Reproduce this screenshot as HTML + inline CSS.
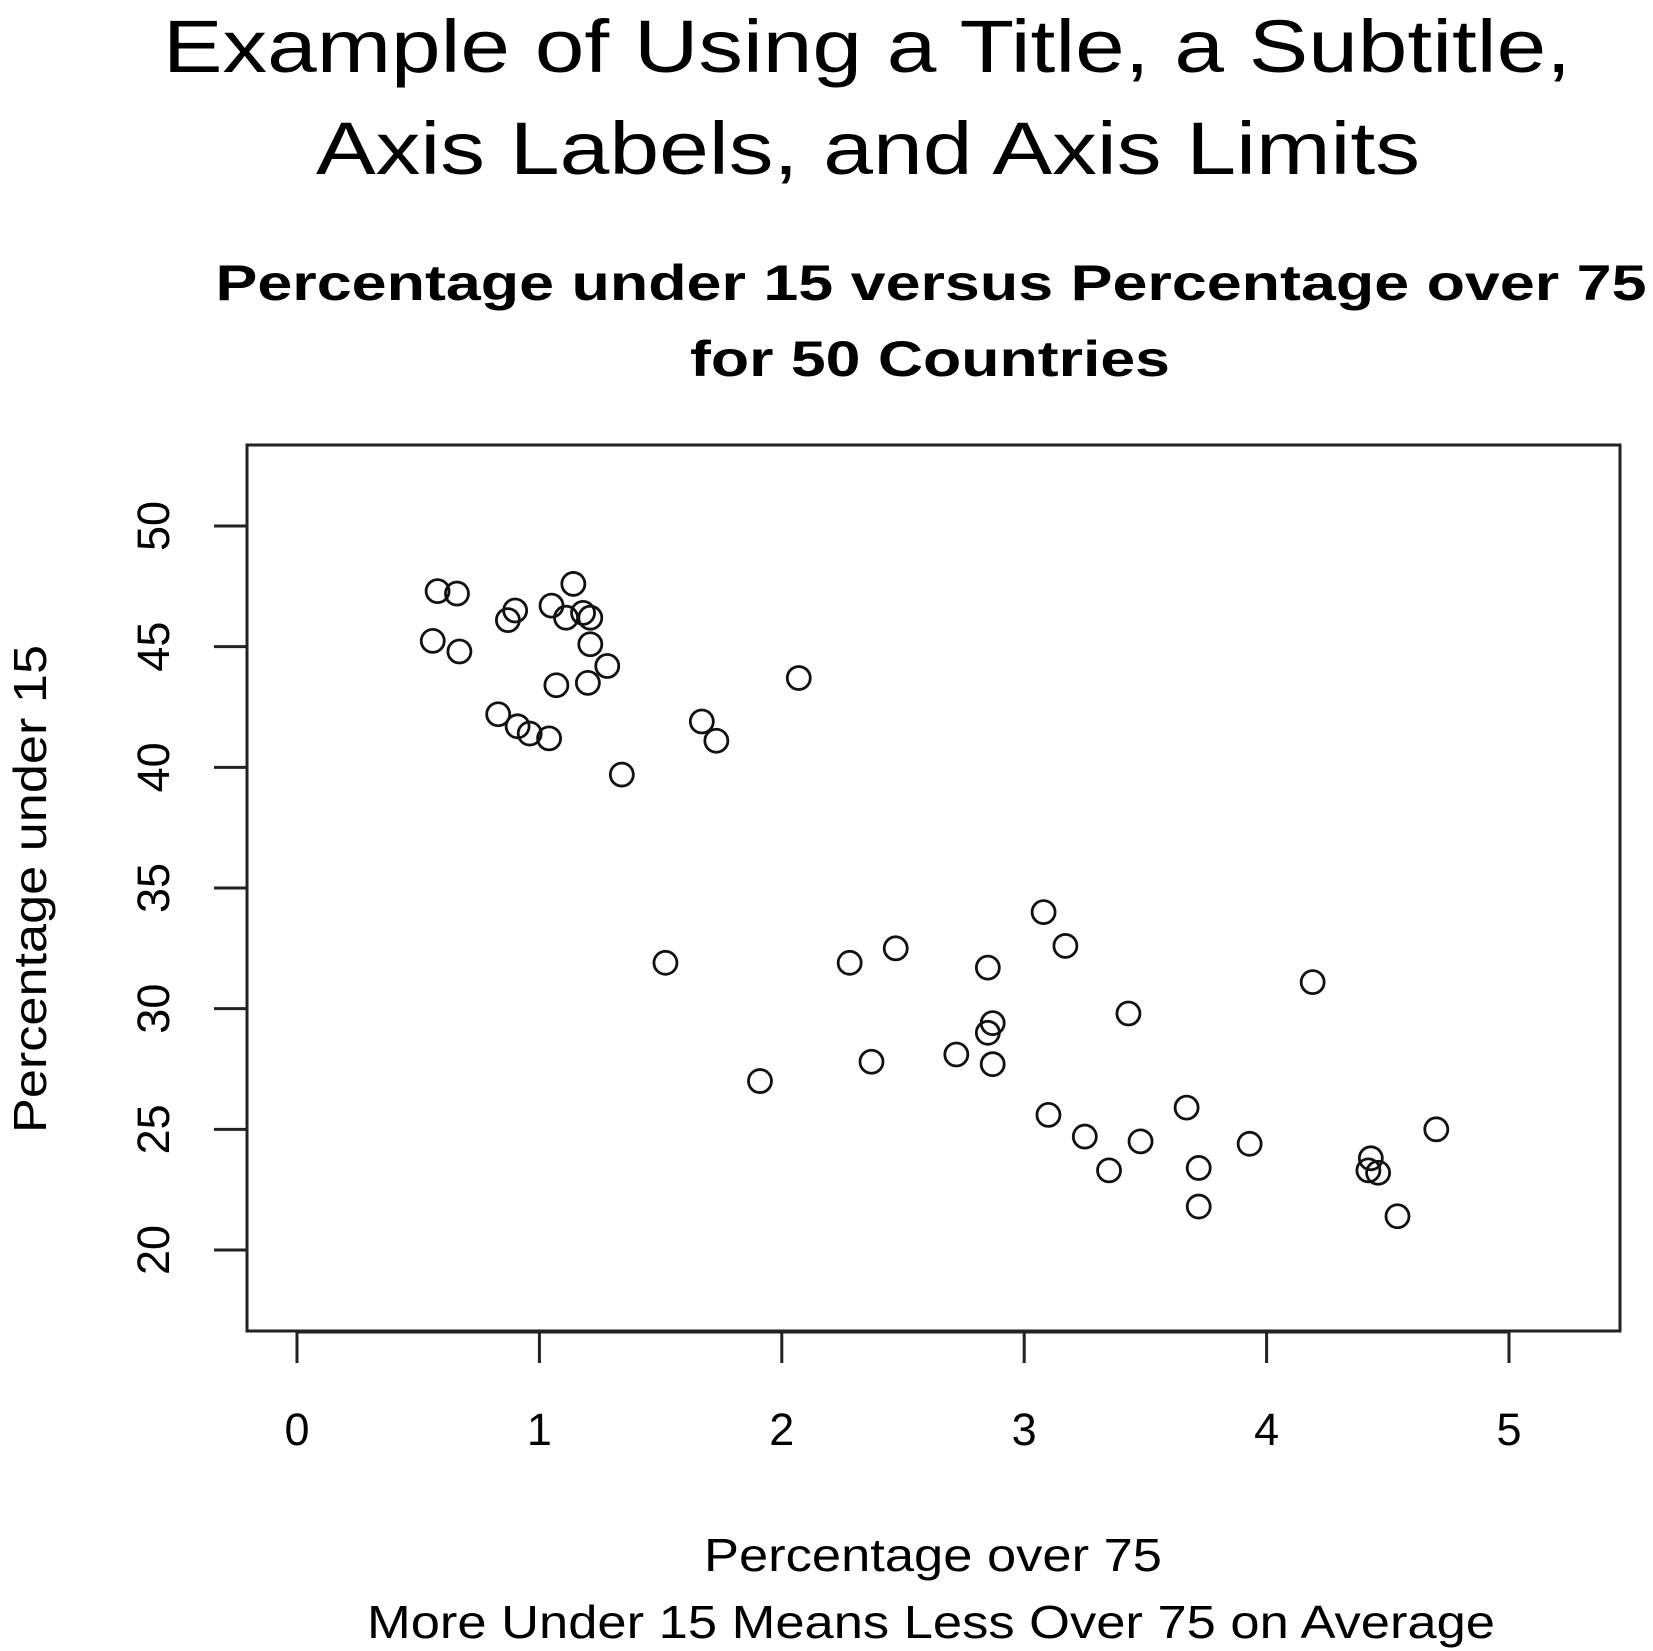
<!DOCTYPE html>
<html><head><meta charset="utf-8"><style>
html,body{margin:0;padding:0;background:#fff}
svg{display:block;font-family:"Liberation Sans",Arial,sans-serif}
</style></head><body>
<svg id="chart" width="1653" height="1651" viewBox="0 0 1653 1651">
<text x="867" y="72" text-anchor="middle" font-size="74" textLength="1408" lengthAdjust="spacingAndGlyphs">Example of Using a Title, a Subtitle,</text>
<text x="868" y="174" text-anchor="middle" font-size="74" textLength="1104" lengthAdjust="spacingAndGlyphs">Axis Labels, and Axis Limits</text>
<text x="931" y="300" text-anchor="middle" font-size="50" font-weight="bold" textLength="1431" lengthAdjust="spacingAndGlyphs">Percentage under 15 versus Percentage over 75</text>
<text x="930" y="376" text-anchor="middle" font-size="50" font-weight="bold" textLength="480" lengthAdjust="spacingAndGlyphs">for 50 Countries</text>
<rect x="247" y="445" width="1373" height="886" fill="none" stroke="#222" stroke-width="3"/>
<text x="933" y="1571" text-anchor="middle" font-size="46" textLength="458" lengthAdjust="spacingAndGlyphs">Percentage over 75</text>
<text x="931" y="1638" text-anchor="middle" font-size="46" textLength="1128" lengthAdjust="spacingAndGlyphs">More Under 15 Means Less Over 75 on Average</text>
<text transform="translate(46,889) rotate(-90)" text-anchor="middle" font-size="46" textLength="488" lengthAdjust="spacingAndGlyphs">Percentage under 15</text>
<g id="axes"></g>
<g id="points"></g>
</svg>
<script>
const xTicks = [0,1,2,3,4,5];
const yTicks = [20,25,30,35,40,45,50];
const xValues = [0.56,0.58,0.66,0.67,0.83,0.87,0.90,0.91,0.96,1.04,1.05,1.07,1.11,1.14,1.18,1.21,1.21,1.20,1.28,1.34,1.52,1.67,1.73,1.91,2.07,2.28,2.37,2.47,2.72,2.85,2.85,2.87,2.87,3.08,3.10,3.17,3.25,3.35,3.43,3.48,3.67,3.72,3.72,3.93,4.19,4.43,4.42,4.46,4.54,4.70];
const yValues = [45.24,47.3,47.2,44.8,42.2,46.1,46.5,41.7,41.4,41.2,46.7,43.4,46.2,47.6,46.4,46.2,45.1,43.5,44.2,39.7,31.9,41.9,41.1,27.0,43.7,31.9,27.8,32.5,28.1,31.7,29.0,29.4,27.7,34.0,25.6,32.6,24.7,23.3,29.8,24.5,25.9,23.4,21.8,24.4,31.1,23.8,23.3,23.2,21.4,25.0];
const NS='http://www.w3.org/2000/svg';
function sx(v){return 297 + v*(1509-297)/5;}
function sy(v){return 526 + (50-v)*(1250-526)/30;}
const axes=document.getElementById('axes');
const pts=document.getElementById('points');
function mk(tag,attrs){const e=document.createElementNS(NS,tag);for(const k in attrs)e.setAttribute(k,attrs[k]);return e;}
const xl=mk('line',{x1:sx(xTicks[0]),x2:sx(xTicks[xTicks.length-1]),y1:1332,y2:1332,stroke:'#222','stroke-width':3});


axes.appendChild(xl);
xTicks.forEach(t=>{
  const l=mk('line',{x1:sx(t),x2:sx(t),y1:1332,y2:1363,stroke:'#222','stroke-width':3});
  
  
  axes.appendChild(l);
  const tx=mk('text',{x:sx(t),y:1445,'text-anchor':'middle','font-size':45});
  tx.textContent=t;
  
  
  axes.appendChild(tx);
});
const yl=mk('line',{x1:247,x2:247,y1:sy(yTicks[0]),y2:sy(yTicks[yTicks.length-1]),stroke:'#222','stroke-width':3});


axes.appendChild(yl);
yTicks.forEach(t=>{
  const l=mk('line',{x1:214,x2:247,y1:sy(t),y2:sy(t),stroke:'#222','stroke-width':3});
  
  
  axes.appendChild(l);
  const tx=mk('text',{transform:'translate(169,'+sy(t)+') rotate(-90)','text-anchor':'middle','font-size':45});
  tx.textContent=t;
  
  
  axes.appendChild(tx);
});
xValues.forEach((x,i)=>{
  const c=mk('circle',{cx:sx(x),cy:sy(yValues[i]),r:11.5,fill:'none',stroke:'#111','stroke-width':2.8});
  
  
  pts.appendChild(c);
});
</script>
</body></html>
